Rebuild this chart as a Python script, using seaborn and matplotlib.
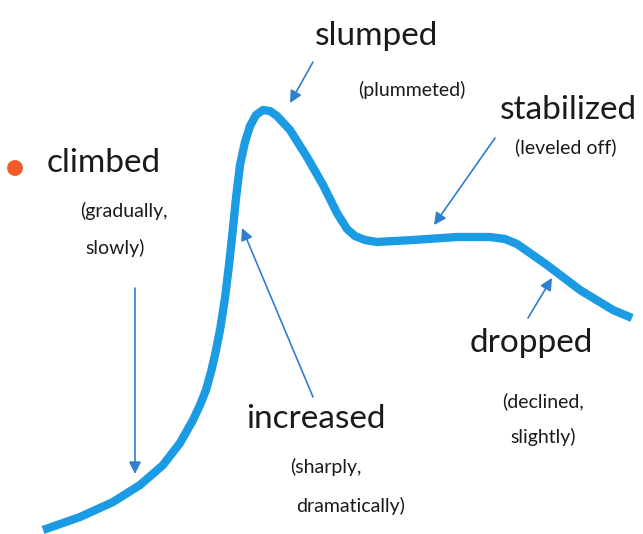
import matplotlib
matplotlib.use('Agg')
import matplotlib.pyplot as plt
import seaborn as sns

# curve (pixel space, y grows downward)
curve_x = [43, 80, 113, 140, 163, 180, 193, 200, 206, 211, 215, 220, 225, 229, 233,
           236, 240, 245, 250, 256, 263, 270, 277, 290, 307, 323, 337, 347, 355, 365,
           377, 413, 457, 490, 505, 517, 530, 547, 580, 613, 632]
curve_y = [530, 517, 502, 485, 465, 443, 420, 405, 390, 372, 355, 330, 298, 265, 228,
           198, 165, 142, 126, 115, 110, 111, 116, 130, 157, 185, 213, 229, 236, 240,
           242, 240, 237, 237, 239, 244, 253, 265, 290, 310, 318]

# word labels: (text, x, y, size)
labels = [
    ("climbed", 47, 163, 24),
    ("(gradually,", 80, 211, 14),
    ("slowly)", 85, 248, 14),
    ("slumped", 315, 36, 24),
    ("(plummeted)", 358, 90, 14),
    ("stabilized", 500, 110, 24),
    ("(leveled off)", 515, 147, 14),
    ("dropped", 470, 343, 24),
    ("(declined,", 502, 401, 14),
    ("slightly)", 510, 437, 14),
    ("increased", 246, 419, 24),
    ("(sharply,", 290, 467, 14),
    ("dramatically)", 296, 506, 14),
]

# arrows: (start, tip)
arrows = [
    ((135, 288), (135, 474)),
    ((313, 62), (290, 103)),
    ((313, 397), (242, 228)),
    ((495, 138), (434, 225)),
    ((528, 318), (552, 278)),
]

bullet_x = [15]
bullet_y = [168]

sns.set_style("white")
plt.rcParams['font.family'] = ['Lato', 'DejaVu Sans']

fig = plt.figure(figsize=(6.43, 5.34), dpi=100)
ax = fig.add_axes([0, 0, 1, 1])

sns.lineplot(x=curve_x, y=curve_y, sort=False, color='#1a9be3', linewidth=6,
             solid_capstyle='butt', solid_joinstyle='round', ax=ax)
sns.scatterplot(x=bullet_x, y=bullet_y, color='#f05a28', s=130, edgecolor='none', ax=ax)

for start, tip in arrows:
    ax.annotate("", xy=tip, xytext=start,
                arrowprops=dict(arrowstyle='-|>', color='#2f7fd0', lw=1.2,
                                mutation_scale=18, shrinkA=0, shrinkB=0))

for txt, x, y, size in labels:
    ax.text(x, y, txt, fontsize=size, color='#1a1a1a', ha='left', va='center')

ax.set_xlim(0, 643)
ax.set_ylim(534, 0)
ax.axis('off')

fig.savefig("out.png", dpi=100)
